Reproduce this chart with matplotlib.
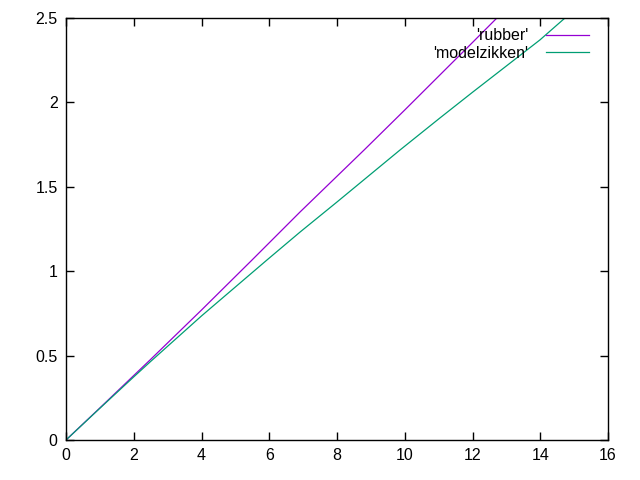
import matplotlib
matplotlib.use("Agg")
import matplotlib.pyplot as plt

# data
rubber_x = [0, 1, 2, 2.48, 4, 5.49, 6.91, 8.8, 10, 11, 12, 12.72, 13.5]
rubber_y = [0, 0.19, 0.382, 0.474, 0.77, 1.066, 1.351, 1.718, 1.955, 2.155, 2.355, 2.5, 2.655]

model_x = [0, 1, 2, 2.48, 4, 5.93, 6.91, 8, 9.86, 11.04, 12, 13.99, 14.73, 15.5]
model_y = [0, 0.188, 0.374, 0.462, 0.735, 1.066, 1.232, 1.41, 1.718, 1.908, 2.06, 2.37, 2.5, 2.62]

xticks = [0, 2, 4, 6, 8, 10, 12, 14, 16]
yticks = [0, 0.5, 1, 1.5, 2, 2.5]
ytick_labels = ["0", "0.5", "1", "1.5", "2", "2.5"]

plt.rcParams['font.family'] = ['Liberation Sans', 'DejaVu Sans']

fig = plt.figure(figsize=(6.4, 4.8), dpi=100)
ax = fig.add_axes([66 / 640, 40 / 480, 542 / 640, 422 / 480])

ax.plot(rubber_x, rubber_y, color='#9400d3', lw=0.9, label="'rubber'")
ax.plot(model_x, model_y, color='#009e73', lw=0.9, label="'modelzikken'")

ax.set_xlim(0, 16)
ax.set_ylim(0, 2.5)
ax.set_xticks(xticks)
ax.set_xticklabels([str(t) for t in xticks])
ax.set_yticks(yticks)
ax.set_yticklabels(ytick_labels)
ax.tick_params(direction='in', top=True, right=True, length=6, labelsize=11.5, pad=6, width=1)
for s in ax.spines.values():
    s.set_linewidth(1)

# legend in the top right, sample after the text (gnuplot style)
leg = ax.legend(loc='upper right', bbox_to_anchor=(1 - 5 / 542, 1 + 4 / 422),
                frameon=False, markerfirst=False, fontsize=11.5,
                handlelength=2.7, labelspacing=0.15, borderaxespad=0.5, handletextpad=1.1)

fig.savefig("out.png", dpi=100)
